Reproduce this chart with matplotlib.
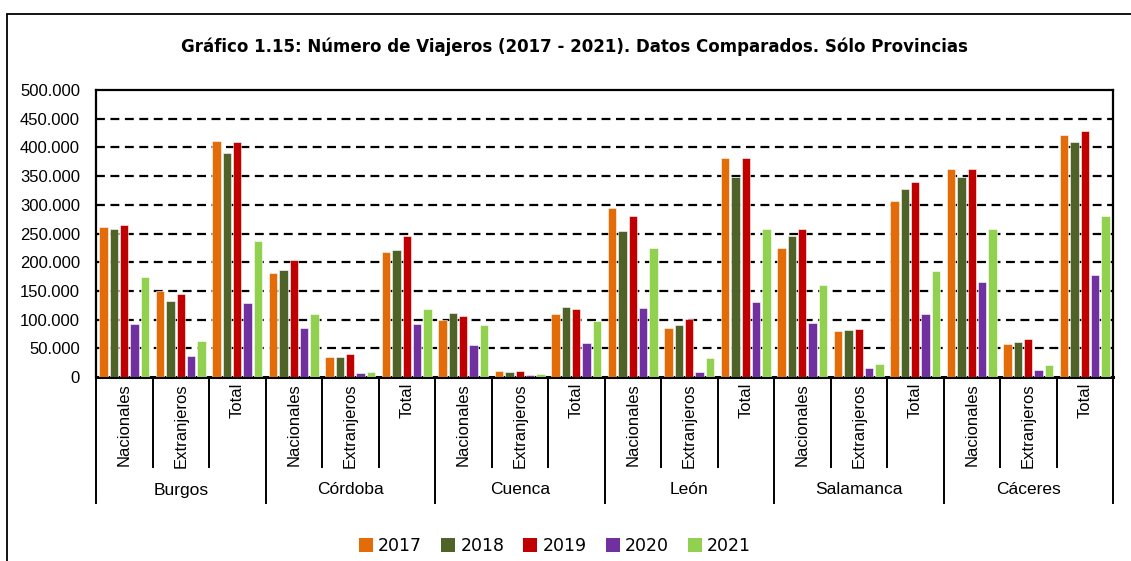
import matplotlib
matplotlib.use("Agg")
import matplotlib.pyplot as plt
from matplotlib import font_manager
from matplotlib.patches import Rectangle, Patch
import numpy as np

provinces = ["Burgos", "Córdoba", "Cuenca", "León", "Salamanca", "Cáceres"]
subcats = ["Nacionales", "Extranjeros", "Total"]
years = ["2017", "2018", "2019", "2020", "2021"]
colors = ["#E36C09", "#4F6228", "#C00000", "#7030A0", "#92D050"]

# values per (province, subcategory), in order of provinces x subcats
v2017 = [262000, 150000, 412000, 182000, 35000, 218000, 100000, 10000, 110000,
         294000, 86000, 381000, 225000, 80000, 306000, 362000, 58000, 422000]
v2018 = [257000, 133000, 391000, 187000, 35000, 222000, 112000, 9000, 122000,
         255000, 91000, 348000, 246000, 82000, 328000, 348000, 61000, 409000]
v2019 = [264000, 145000, 410000, 203000, 40000, 245000, 107000, 10500, 119000,
         280000, 101000, 382000, 257000, 83000, 340000, 362000, 66000, 428000]
v2020 = [93000, 37000, 129000, 86000, 7000, 93000, 56000, 3000, 59000,
         121000, 9000, 131000, 94000, 16000, 110000, 165000, 12000, 178000]
v2021 = [174000, 63000, 237000, 109000, 9000, 119000, 90000, 6000, 97000,
         224000, 33000, 258000, 160000, 23000, 184000, 258000, 21000, 280000]
series = [v2017, v2018, v2019, v2020, v2021]

yticks = list(range(0, 500001, 50000))
title = "Gráfico 1.15: Número de Viajeros (2017 - 2021). Datos Comparados. Sólo Provincias"

names = {f.name for f in font_manager.fontManager.ttflist}
narrow = "Liberation Sans Narrow" if "Liberation Sans Narrow" in names else "Liberation Sans"

W, H = 1131, 561
fig = plt.figure(figsize=(W / 100, H / 100), dpi=100)
L, R, T, B = 96, 1113, 90, 377
ax = fig.add_axes([L / W, 1 - B / H, (R - L) / W, (B - T) / H])

n = len(provinces) * len(subcats)
x = np.arange(n)
pitch = 0.183
bw = 0.15
for i, (vals, c) in enumerate(zip(series, colors)):
    ax.bar(x + (i - 2) * pitch, vals, width=bw, color=c, edgecolor="white",
           linewidth=0.4, zorder=3)

ax.set_xlim(-0.5, n - 0.5)
ax.set_ylim(0, 500000)
ax.set_yticks(yticks)
ax.set_yticklabels([f"{v:,}".replace(",", ".") for v in yticks],
                   fontfamily=narrow, fontsize=12)
ax.tick_params(axis="y", length=0, pad=11.5)
ax.set_xticks([])
for yv in yticks[1:-1]:
    ax.axhline(yv, color="black", lw=1.6, ls=(0, (4, 2.5)), zorder=1)
for s in ax.spines.values():
    s.set_linewidth(1.6)
ax.spines["bottom"].set_linewidth(2.2)

trans = ax.get_xaxis_transform()
sub_bottom = -(467 - B) / (B - T)
grp_bottom = -(503 - B) / (B - T)
grp_label = -(490 - B) / (B - T)
top_label = -(383 - B) / (B - T)

for k in range(n):
    ax.text(k, top_label, subcats[k % 3], rotation=90, ha="center", va="top",
            fontsize=12, fontfamily=narrow, transform=trans)
for k in range(n + 1):
    is_grp = (k % 3 == 0)
    ax.plot([k - 0.5, k - 0.5], [0, grp_bottom if is_grp else sub_bottom],
            color="black", lw=1.4, transform=trans, clip_on=False)
for g, p in enumerate(provinces):
    ax.text(3 * g + 1, grp_label, p, ha="center", va="center", fontsize=12.5,
            fontfamily=narrow, transform=trans)

fig.text(574 / W, 1 - 47 / H, title, ha="center", va="center",
         fontsize=12, fontweight="bold", fontfamily="DejaVu Sans")

fig.patches.append(Rectangle((7 / W, -0.1), 1.2, 1 - 14 / H + 0.1,
                             transform=fig.transFigure, fill=False,
                             edgecolor="black", lw=1.3))

handles = [Patch(facecolor=c, label=y) for c, y in zip(colors, years)]
fig.legend(handles=handles, loc="center", bbox_to_anchor=(555 / W, 1 - 546 / H),
           ncol=5, frameon=False, handlelength=0.8,
           handleheight=0.8, handletextpad=0.3, columnspacing=1.1,
           prop={"family": "DejaVu Sans", "size": 12.5})

fig.savefig("out.png", dpi=100)
